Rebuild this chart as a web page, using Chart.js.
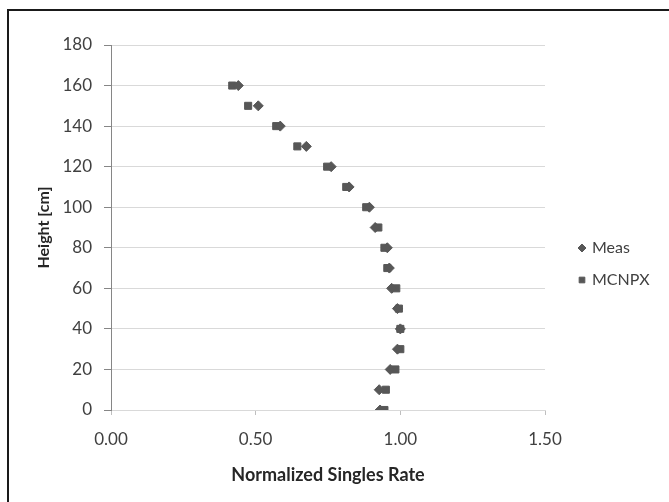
<!DOCTYPE html>
<html>
<head>
<meta charset="utf-8">
<script src="https://cdn.jsdelivr.net/npm/chart.js"></script>
<style>
  html, body { margin: 0; padding: 0; background: #fff; }
  #wrap { width: 669px; height: 502px; }
</style>
</head>
<body>
<div id="wrap"><canvas id="chart" width="669" height="502"></canvas></div>
<script>
// heights in cm
const heights = [0, 10, 20, 30, 40, 50, 60, 70, 80, 90, 100, 110, 120, 130, 140, 150, 160]
// normalized singles rate
const meas  = [0.930, 0.927, 0.965, 0.990, 1.000, 0.990, 0.970, 0.962, 0.955, 0.913, 0.893, 0.823, 0.761, 0.675, 0.585, 0.509, 0.440]
const mcnpx = [0.945, 0.950, 0.983, 1.000, 1.000, 0.995, 0.986, 0.955, 0.945, 0.924, 0.882, 0.813, 0.747, 0.644, 0.571, 0.474, 0.419]
const seriesNames = ['Meas', 'MCNPX']

const font = 'Lato, "Open Sans", sans-serif'
const toPoints = vals => vals.map((v, i) => ({ x: v, y: heights[i] }))

// frame lines at the top and left edge
const framePlugin = {
    id: 'frame',
    beforeDraw(chart) {
        const ctx = chart.ctx
        ctx.save()
        ctx.fillStyle = '#fff'
        ctx.fillRect(0, 0, chart.width, chart.height)
        ctx.fillStyle = '#1a1a1a'
        ctx.fillRect(7, 9, chart.width - 7, 2)
        ctx.fillRect(7, 9, 2, chart.height - 9)
        ctx.restore()
    }
}

// legend to the right, the way the spreadsheet lays it out
const sideLegend = {
    id: 'sideLegend',
    afterDraw(chart) {
        const ctx = chart.ctx
        const rows = [248, 280]
        ctx.save()
        chart.data.datasets.forEach((ds, i) => {
            ctx.fillStyle = ds.backgroundColor
            ctx.strokeStyle = ds.borderColor
            ctx.lineWidth = 1
            Chart.helpers.drawPoint(ctx, { pointStyle: ds.pointStyle, radius: 4, borderWidth: 1 }, 582, rows[i])
            ctx.fillStyle = '#404040'
            ctx.font = '16px ' + font
            ctx.textAlign = 'left'
            ctx.textBaseline = 'middle'
            ctx.fillText(ds.label, 592, rows[i])
        })
        ctx.restore()
    }
}

new Chart(document.getElementById('chart'), {
    type: 'scatter',
    data: {
        datasets: [{
            label: seriesNames[0],
            data: toPoints(meas),
            pointStyle: 'rectRot',
            pointRadius: 5,
            backgroundColor: '#575757',
            borderColor: '#575757',
            borderWidth: 1
        }, {
            label: seriesNames[1],
            data: toPoints(mcnpx),
            pointStyle: 'rect',
            pointRadius: 5,
            backgroundColor: '#575757',
            borderColor: '#575757',
            borderWidth: 1
        }]
    },
    options: {
        responsive: false,
        animation: false,
        layout: { padding: { left: 28, right: 124, top: 45, bottom: 16 } },
        plugins: {
            legend: { display: false },
            tooltip: { enabled: false }
        },
        scales: {
            x: {
                min: 0,
                max: 1.5,
                ticks: {
                    stepSize: 0.5,
                    padding: 14,
                    color: '#404040',
                    font: { family: font, size: 17 },
                    callback: v => v.toFixed(2)
                },
                grid: { drawOnChartArea: false, drawTicks: true, tickLength: 5, tickColor: '#bfbfbf' },
                border: { color: '#d9d9d9' },
                title: {
                    display: true,
                    text: 'Normalized Singles Rate',
                    color: '#262626',
                    font: { family: font, size: 18, weight: 'bold' },
                    padding: { top: 1, bottom: 0 }
                }
            },
            y: {
                min: 0,
                max: 180,
                afterFit: s => { s.width = 83 },
                ticks: {
                    stepSize: 20,
                    padding: 12,
                    color: '#404040',
                    font: { family: font, size: 17 }
                },
                grid: { color: '#d9d9d9', tickColor: '#868686', tickLength: 7 },
                border: { color: '#868686' },
                title: {
                    display: true,
                    text: 'Height [cm]',
                    color: '#262626',
                    font: { family: font, size: 16, weight: 'bold' },
                    padding: { top: 6, bottom: 0 }
                }
            }
        }
    },
    plugins: [framePlugin, sideLegend]
})
</script>
</body>
</html>
